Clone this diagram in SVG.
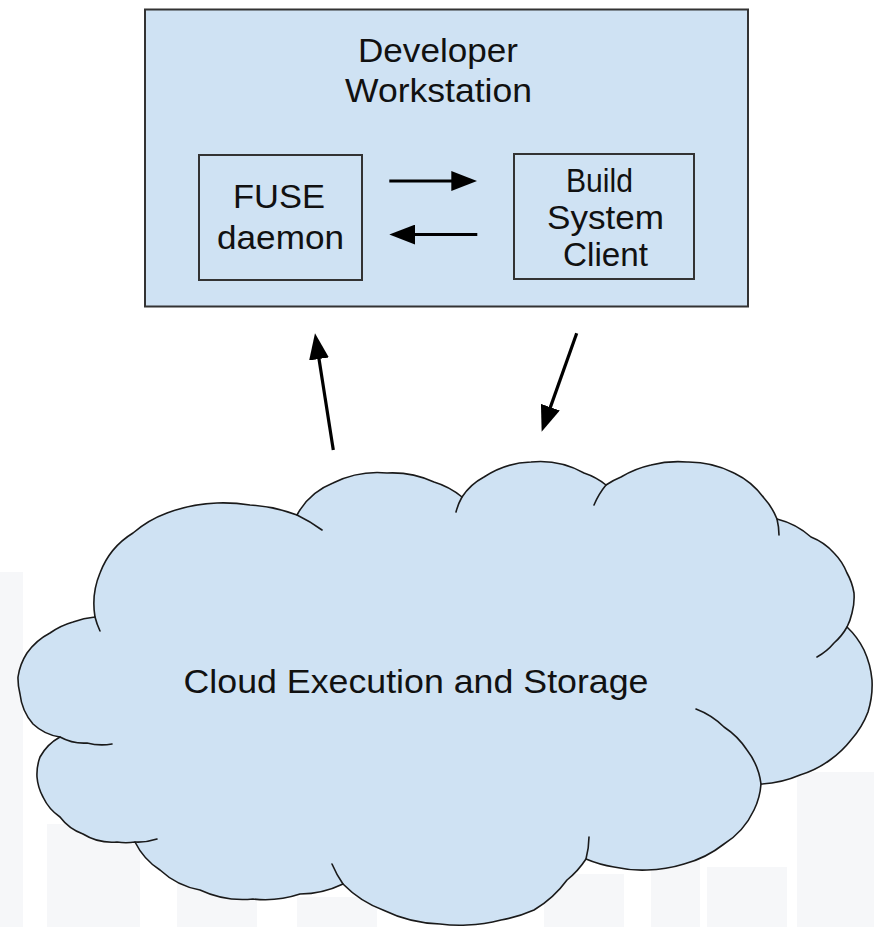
<svg xmlns="http://www.w3.org/2000/svg" width="874" height="927" viewBox="0 0 874 927">
  <defs>
    <marker id="head" markerUnits="userSpaceOnUse" markerWidth="26" markerHeight="20" refX="2" refY="10" orient="auto">
      <path d="M0,0 L26,10 L0,20 z" fill="#000"/>
    </marker>
  </defs>
  <style>
    .box { fill: #cfe2f3; stroke: #333; stroke-width: 2; }
    .cloud { fill: #cfe2f3; stroke: #1a1a1a; stroke-width: 1.6; stroke-linejoin: round; }
    .tail { fill: none; stroke: #1a1a1a; stroke-width: 1.6; stroke-linecap: round; }
    .lbl { font-family: "Liberation Sans", Arial, sans-serif; fill: #111; }
    .arrow { stroke: #000; stroke-width: 3.2; fill: none; marker-end: url(#head); }
    .ghost { fill: #f6f7f9; }
  </style>

  <rect width="874" height="927" fill="#fff"/>

  <!-- faint skyline backdrop -->
  <g id="backdrop">
    <rect class="ghost" x="0" y="572" width="23" height="355"/>
    <rect class="ghost" x="47" y="824" width="93" height="103"/>
    <rect class="ghost" x="177" y="877" width="80" height="50"/>
    <rect class="ghost" x="297" y="897" width="80" height="30"/>
    <rect class="ghost" x="544" y="874" width="80" height="53"/>
    <rect class="ghost" x="651" y="860" width="49" height="67"/>
    <rect class="ghost" x="707" y="867" width="80" height="60"/>
    <rect class="ghost" x="797" y="772" width="77" height="155"/>
  </g>

  <!-- workstation container with its two components -->
  <g id="workstation">
    <rect class="box" x="145" y="9.5" width="603" height="297"/>
    <text class="lbl" x="358" y="61.5" font-size="33.5" textLength="160" lengthAdjust="spacingAndGlyphs">Developer</text>
    <text class="lbl" x="345" y="101.5" font-size="33.5" textLength="187" lengthAdjust="spacingAndGlyphs">Workstation</text>
  </g>

  <g id="fuse-daemon">
    <rect class="box" x="199" y="155" width="163" height="125"/>
    <text class="lbl" x="233" y="208" font-size="33.5" textLength="92" lengthAdjust="spacingAndGlyphs">FUSE</text>
    <text class="lbl" x="217" y="249" font-size="33.5" textLength="127" lengthAdjust="spacingAndGlyphs">daemon</text>
  </g>

  <g id="build-client">
    <rect class="box" x="514" y="154" width="180" height="125"/>
    <text class="lbl" x="566" y="191.5" font-size="33.5" textLength="67" lengthAdjust="spacingAndGlyphs">Build</text>
    <text class="lbl" x="547" y="228.5" font-size="33.5" textLength="117" lengthAdjust="spacingAndGlyphs">System</text>
    <text class="lbl" x="563" y="265.5" font-size="33.5" textLength="85" lengthAdjust="spacingAndGlyphs">Client</text>
  </g>

  <!-- cloud: scalloped outline plus the short inner lobe arcs -->
  <g id="cloud">
    <path class="cloud" d="M95,617
      A80,80 0 0 1 100,573 A80,80 0 0 1 133,533 A110,110 0 0 1 167,513 A160,160 0 0 1 217,503 A170,170 0 0 1 250,505 A160,160 0 0 1 297,515
      A70,70 0 0 1 333,483 A100,100 0 0 1 387,473 A100,100 0 0 1 434,482 A80,80 0 0 1 462,497
      A60,60 0 0 1 484,477 A90,90 0 0 1 531,462 A90,90 0 0 1 584,473 A70,70 0 0 1 606,485
      A80,80 0 0 1 621,477 A100,100 0 0 1 651,465 A110,110 0 0 1 687,462 A100,100 0 0 1 734,473 A80,80 0 0 1 764,498 A70,70 0 0 1 777,519
      A80,80 0 0 1 811,537 A60,60 0 0 1 834,553 A60,60 0 0 1 847,573 A60,60 0 0 1 854,593 A60,60 0 0 1 852,613 A60,60 0 0 1 847,627
      A80,80 0 0 1 864,650 A90,90 0 0 1 872,680 A90,90 0 0 1 868,712 A90,90 0 0 1 851,740 A100,100 0 0 1 830,760 A100,100 0 0 1 800,775 A110,110 0 0 1 761,784
      A70,70 0 0 1 754,810 A80,80 0 0 1 724,844 A110,110 0 0 1 684,864 A130,130 0 0 1 647,870 A130,130 0 0 1 614,867 A120,120 0 0 1 586,859
      A90,90 0 0 1 567,880 A110,110 0 0 1 534,910 A140,140 0 0 1 501,920 A160,160 0 0 1 467,925 A160,160 0 0 1 440,924 A140,140 0 0 1 383,910 A110,110 0 0 1 343,884
      A100,100 0 0 1 300,894 A110,110 0 0 1 253,899 A100,100 0 0 1 200,890 A80,80 0 0 1 160,870 A70,70 0 0 1 135,842
      A60,60 0 0 1 117,842 A55,55 0 0 1 83,834 A50,50 0 0 1 60,817 A50,50 0 0 1 43,797 A50,50 0 0 1 37,777 A50,50 0 0 1 40,757 A50,50 0 0 1 60,737
      A50,50 0 0 1 33,724 A55,55 0 0 1 20,694 A60,60 0 0 1 18,677 A60,60 0 0 1 27,653 A65,65 0 0 1 50,633 A75,75 0 0 1 73,622 A90,90 0 0 1 95,617 Z"/>
    <path class="tail" d="M100,631 A80,80 0 0 1 95,617
      M297,515 A160,160 0 0 1 322,530
      M456,512 A60,60 0 0 1 462,497
      M594,505 A80,80 0 0 1 606,485
      M777,519 A70,70 0 0 1 779,535
      M847,627 A60,60 0 0 1 834,643 A60,60 0 0 1 817,657
      M696,709 A80,80 0 0 1 724,727 A80,80 0 0 1 747,750 A70,70 0 0 1 761,784
      M589,837 A90,90 0 0 1 586,859
      M343,884 A110,110 0 0 1 332,864
      M157,839 A60,60 0 0 1 135,842
      M112,744 A60,60 0 0 1 87,743 A50,50 0 0 1 60,737"/>
    <text class="lbl" x="183.5" y="692.5" font-size="33" textLength="465" lengthAdjust="spacingAndGlyphs">Cloud Execution and Storage</text>
  </g>

  <!-- connectors -->
  <g id="connectors">
    <line class="arrow" x1="389.3" y1="181" x2="453.3" y2="181"/>
    <line class="arrow" x1="477.3" y1="234.5" x2="413.3" y2="234.5"/>
    <line class="arrow" x1="333.3" y1="450" x2="318.7" y2="357"/>
    <line class="arrow" x1="576.7" y1="333.3" x2="549.7" y2="409.1"/>
  </g>
</svg>
